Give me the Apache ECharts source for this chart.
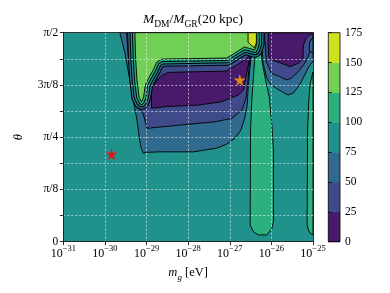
<!DOCTYPE html>
<html><head><meta charset="utf-8">
<script src="https://cdn.jsdelivr.net/npm/echarts@6/dist/echarts.min.js"></script>
<style>html,body{margin:0;padding:0;background:#fff}#c{width:390px;height:293px}</style>
</head><body><div id="c"></div>
<script>
// ---- data ----
const levels = [0, 25, 50, 75, 100, 125, 150, 175];
const levelColors = ['#481a6c', '#3f4a8a', '#306a8e', '#21918c', '#2cb17e', '#73d056', '#cde11d'];
const xDecades = [-31, -30, -29, -28, -27, -26, -25];          // log10(m_g / eV)
const yTickLabels = {0: '0', 2: 'π/8', 4: 'π/4', 6: '3π/8', 8: 'π/2'}; // theta in units of pi/16
// contour regions: [log10 m_g, theta/(pi/16)]
const leftBelow75 = [[-29.64,8],[-29.52,7.22],[-29.40,6.19],[-29.32,5.42],[-29.23,4.66],[-29.19,4.16],[-29.14,3.64],[-29.08,3.38],[-29.01,3.42],[-28.67,3.44],[-27.87,3.44],[-27.31,3.58],[-27.07,3.74],[-26.87,3.97],[-26.73,4.28],[-26.64,4.73],[-26.58,5.23],[-26.56,5.81],[-26.52,6.57],[-26.48,7.15],[-26.45,7.53],[-26.40,8]];
const leftBelow50 = [[-29.48,8],[-29.44,7.11],[-29.35,6.19],[-29.30,5.62],[-29.20,5.12],[-29.08,4.89],[-28.99,4.34],[-28.15,4.47],[-27.35,4.59],[-26.95,4.72],[-26.71,5.04],[-26.62,5.42],[-26.58,5.88],[-26.54,6.57],[-26.51,7.15],[-26.47,7.53],[-26.44,8]];
const leftBelow25 = [[-28.88,5.11],[-28.55,5.17],[-27.75,5.23],[-27.19,5.36],[-26.79,5.62],[-26.67,5.81],[-26.60,6.38],[-26.54,6.88],[-26.50,7.18],[-26.60,7.01],[-26.87,6.73],[-27.09,6.53],[-28.48,6.48],[-28.63,6.36],[-28.77,6.15],[-28.88,5.88]];
const leftAbove125 = [[-29.28,8],[-29.26,6.96],[-29.23,6.19],[-29.18,5.54],[-29.12,5.35],[-29.07,5.54],[-29.03,6.00],[-28.96,6.23],[-28.84,6.57],[-28.75,6.88],[-28.63,6.99],[-27.07,7.03],[-26.92,7.18],[-26.65,7.45],[-26.53,7.40],[-26.40,7.34],[-26.35,7.57],[-26.35,8]];
const leftAbove150 = [[-26.56,8],[-26.56,7.64],[-26.48,7.51],[-26.41,7.43],[-26.36,7.61],[-26.36,8]];
const stripAbove100 = [[-26.35,8],[-26.38,7.34],[-26.42,6.57],[-26.47,5.42],[-26.50,4.28],[-26.51,0.64],[-26.43,0.38],[-26.31,0.26],[-26.11,0.26],[-25.99,0.51],[-25.95,0.77],[-25.95,3.51],[-25.99,4.47],[-26.05,5.54],[-26.14,6.19],[-26.23,6.96],[-26.28,8]];
const edgeAbove100 = [[-25,6.50],[-25.07,6.04],[-25.10,5.42],[-25.13,4.28],[-25.14,0.64],[-25.11,0.45],[-25.07,0.33],[-25,0.26]];
const rightBelow75 = [[-26.24,8],[-26.20,6.84],[-26.12,6.30],[-26.03,6.04],[-25.88,5.87],[-25.68,5.68],[-25.60,5.62],[-25.48,5.68],[-25.32,6.00],[-25.20,6.38],[-25.12,6.64],[-25.04,6.83],[-25,6.89],[-25,8]];
const rightBelow50 = [[-26.17,8],[-26.12,6.89],[-26.00,6.45],[-25.80,6.32],[-25.64,6.19],[-25.52,6.25],[-25.32,6.57],[-25.20,6.83],[-25.12,7.08],[-25.04,7.40],[-25,7.59],[-25,8]];
const rightBelow25 = [[-26.08,8],[-26.07,7.08],[-25.99,6.96],[-25.71,6.80],[-25.55,6.70],[-25.35,6.83],[-25.24,7.02],[-25.23,7.53],[-25.16,7.80],[-25.07,7.93],[-25,7.95],[-25,8]];
const cornerAbove50 = [[-25,7.84],[-25.08,7.64],[-25.09,7.34],[-25,7.18]];
const redStar = [[-29.84, 3.35]];
const orangeStar = [[-26.76, 6.19]];

// region list: polygon + band index (into levelColors)
const regions = [
  [stripAbove100, 4], [edgeAbove100, 4],
  [rightBelow75, 2], [rightBelow50, 1], [rightBelow25, 0], [cornerAbove50, 2],
  [leftBelow75, 2], [leftBelow50, 1], [leftBelow25, 0]
];

const FONT = 'Liberation Serif';
const chart = echarts.init(document.getElementById('c'), null, {renderer: 'canvas'});

function renderRegion(params, api) {
  const r = regions[params.dataIndex];
  return {type: 'polygon', shape: {points: r[0].map(p => api.coord(p))},
    style: {fill: levelColors[r[1]], stroke: '#000', lineWidth: 0.9}};
}
function renderHigh(params, api) {
  const pts = leftAbove125.map(p => api.coord(p));
  const b = 2.4, h = 0.5;
  const rings = [[3*b+h,'#000'],[3*b-h,levelColors[2]],[2*b+h,'#000'],[2*b-h,levelColors[3]],[b+h,'#000'],[b-h,levelColors[4]]];
  const children = rings.map(r => ({type: 'polygon', shape: {points: pts},
    style: {fill: null, stroke: r[1], lineWidth: 2*r[0], lineJoin: 'round'}}));
  children.push({type: 'polygon', shape: {points: pts}, style: {fill: levelColors[5], stroke: '#000', lineWidth: 0.9}});
  children.push({type: 'polygon', shape: {points: leftAbove150.map(p => api.coord(p))}, style: {fill: levelColors[6], stroke: '#000', lineWidth: 0.9}});
  return {type: 'group', children};
}
function renderBar(params, api) {
  const children = [];
  for (let i = 0; i < levelColors.length; i++) {
    const a = api.coord([0, levels[i+1]]), c = api.coord([1, levels[i]]);
    children.push({type: 'rect', shape: {x: a[0], y: a[1], width: c[0]-a[0], height: c[1]-a[1] + 0.5}, style: {fill: levelColors[i]}});
  }
  const a = api.coord([0, levels[levels.length-1]]), c = api.coord([1, levels[0]]);
  children.push({type: 'rect', shape: {x: a[0], y: a[1], width: c[0]-a[0], height: c[1]-a[1]}, style: {fill: null, stroke: '#000', lineWidth: 0.8}});
  return {type: 'group', children};
}

const starPath = 'path://M50,0 L61,35 L98,35 L68,57 L79,91 L50,70 L21,91 L32,57 L2,35 L39,35 Z';
const gridLine = {show: true, lineStyle: {color: 'rgba(255,255,255,0.75)', type: [2, 2], width: 0.8}};
const labelText = {fontFamily: FONT, fontSize: 11.5, color: '#000'};
const txt = (extra) => Object.assign({fontFamily: FONT, fontWeight: 'normal', color: '#000'}, extra);

chart.setOption({
  animation: false,
  backgroundColor: '#fff',
  title: {
    text: '{i|M}{s|DM}{n|/}{i|M}{s|GR}{n|(20 kpc)}',
    left: 188, top: 4, textAlign: 'center',
    textStyle: {fontWeight: 'normal', fontFamily: FONT, rich: {
      i: txt({fontStyle: 'italic', fontSize: 13.5, lineHeight: 20}),
      s: txt({fontSize: 9.5, lineHeight: 11, verticalAlign: 'bottom'}),
      n: txt({fontSize: 13.5, lineHeight: 20})
    }}
  },
  grid: [
    {left: 63.3, right: 77, top: 32.7, bottom: 51.3, show: true, backgroundColor: levelColors[3], borderWidth: 0},
    {left: 328.3, width: 11.7, top: 32.7, bottom: 51.3}
  ],
  xAxis: [
    {type: 'value', gridIndex: 0, min: xDecades[0], max: xDecades[xDecades.length-1], interval: 1, z: 5,
     axisLine: {show: true, onZero: false, lineStyle: {color: '#000', width: 0.8}},
     axisTick: {show: true, length: 3.5, lineStyle: {color: '#000', width: 0.8}},
     splitLine: gridLine,
     axisLabel: {margin: 3, formatter: v => '{b|10}{s|−' + Math.abs(v) + '}',
       rich: {b: txt({fontSize: 12, lineHeight: 18}),
              s: txt({fontSize: 8.5, lineHeight: 9, verticalAlign: 'top'})}},
     name: '{i|m}{s|g}{n| [eV]}', nameLocation: 'middle', nameGap: 23,
     nameTextStyle: {rich: {
       i: txt({fontStyle: 'italic', fontSize: 12.5, lineHeight: 17}),
       s: txt({fontStyle: 'italic', fontSize: 9, lineHeight: 10, verticalAlign: 'bottom'}),
       n: txt({fontSize: 12.5, lineHeight: 17})}}},
    {type: 'value', gridIndex: 0, position: 'top', min: -31, max: -25, z: 5,
     axisLine: {show: true, onZero: false, lineStyle: {color: '#000', width: 0.8}},
     axisTick: {show: false}, axisLabel: {show: false}, splitLine: {show: false}},
    {type: 'value', gridIndex: 1, min: 0, max: 1, show: false}
  ],
  yAxis: [
    {type: 'value', gridIndex: 0, min: 0, max: 8, interval: 1, z: 5,
     axisLine: {show: true, onZero: false, lineStyle: {color: '#000', width: 0.8}},
     axisTick: {show: true, length: 3.5, lineStyle: {color: '#000', width: 0.8}},
     splitLine: gridLine,
     axisLabel: Object.assign({margin: 5, formatter: v => (yTickLabels[v] !== undefined ? yTickLabels[v] : '')}, labelText),
     name: 'θ', nameLocation: 'middle', nameGap: 38, nameRotate: 90,
     nameTextStyle: {fontFamily: FONT, fontStyle: 'italic', fontSize: 12.5, color: '#000'}},
    {type: 'value', gridIndex: 0, position: 'right', min: 0, max: 8, z: 5,
     axisLine: {show: true, onZero: false, lineStyle: {color: '#000', width: 0.8}},
     axisTick: {show: false}, axisLabel: {show: false}, splitLine: {show: false}},
    {type: 'value', gridIndex: 1, position: 'right', min: levels[0], max: levels[levels.length-1], interval: 25, z: 5,
     axisLine: {show: false},
     axisTick: {show: true, length: 3.5, lineStyle: {color: '#000', width: 0.8}},
     splitLine: {show: false},
     axisLabel: Object.assign({margin: 5}, labelText)}
  ],
  series: [
    {type: 'custom', xAxisIndex: 0, yAxisIndex: 0, clip: true, renderItem: renderRegion,
     data: regions.map((r, i) => [i]), silent: true},
    {type: 'custom', xAxisIndex: 0, yAxisIndex: 0, clip: true, renderItem: renderHigh,
     data: [[0]], silent: true},
    {type: 'scatter', xAxisIndex: 0, yAxisIndex: 0, data: redStar, symbol: starPath, symbolSize: 12,
     itemStyle: {color: '#ff0000'}, z: 6},
    {type: 'scatter', xAxisIndex: 0, yAxisIndex: 0, data: orangeStar, symbol: starPath, symbolSize: 12,
     itemStyle: {color: '#ffa500'}, z: 6},
    {type: 'custom', xAxisIndex: 2, yAxisIndex: 2, renderItem: renderBar, data: [[0]], silent: true}
  ]
});
</script></body></html>
